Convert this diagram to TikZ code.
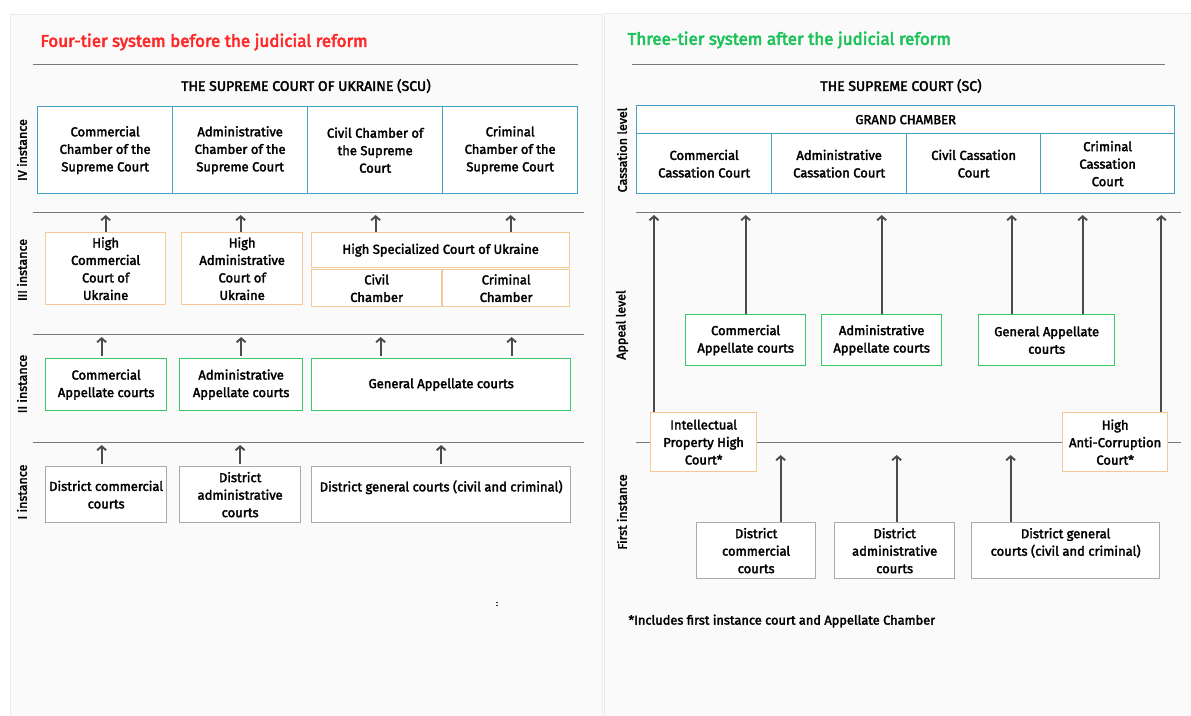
\documentclass[tikz,border=0pt]{standalone}
\usepackage{fontspec}
\setmainfont{Fira Sans}[RawFeature={embolden=2.4}]
\newfontfamily\titlefont{Fira Sans}[RawFeature={embolden=3.2}]
\usetikzlibrary{arrows.meta,calc}
\definecolor{titlered}{RGB}{255,40,40}
\definecolor{titlegreen}{RGB}{30,194,90}
\definecolor{tealc}{RGB}{70,160,195}
\definecolor{orangec}{RGB}{245,200,150}
\definecolor{greenc}{RGB}{55,200,105}
\definecolor{grayc}{RGB}{170,170,170}
\definecolor{linec}{RGB}{120,120,120}
\definecolor{arrowc}{RGB}{75,75,75}
\definecolor{panelfill}{RGB}{250,250,250}
\definecolor{paneldraw}{RGB}{234,234,234}
\newcommand\bx{\fontsize{13}{17.5}\selectfont}
\newcommand\sidefont{\fontsize{12.5}{14}\selectfont}
\begin{document}
\begin{tikzpicture}[x=1pt,y=-1pt,
  panel/.style={fill=panelfill,draw=paneldraw,line width=1pt},
  hl/.style={draw=linec,line width=0.9pt},
  bbox/.style={draw,line width=1.3pt,fill=white,align=center,inner sep=1pt,font=\bx,anchor=north west},
  tbox/.style={bbox,draw=tealc},
  obox/.style={bbox,draw=orangec},
  gbox/.style={bbox,draw=greenc},
  dbox/.style={bbox,draw=grayc},
  arr/.style={draw=arrowc,line width=1.9pt,-{Straight Barb[length=4pt,width=9pt]}},
  side/.style={rotate=90,font=\sidefont},
  head/.style={font=\fontsize{14}{16}\selectfont},
  ttl/.style={anchor=west,font=\titlefont\fontsize{17}{20}\selectfont},
]
\useasboundingbox (0,0) rectangle (1191,715);
\fill[white] (0,0) rectangle (1191,715);
\draw[panel] (10,14) rectangle (602,730);
\draw[panel] (604,13) rectangle (1200,730);

% ================= LEFT PANEL =================
\node[ttl,text=titlered] (t1) at (37,42) {Four-tier system before the judicial reform};
\draw[hl] (33,64) -- (578,64);
\node[head] (scu) at (306,86) {THE SUPREME COURT OF UKRAINE (SCU)};

\node[tbox,minimum width=135,minimum height=87] (s1) at (37,106) {Commercial\\Chamber of the\\Supreme Court};
\node[tbox,minimum width=135,minimum height=87] (s2) at (172,106) {Administrative\\Chamber of the\\Supreme Court};
\node[tbox,minimum width=135,minimum height=87] (s3) at (307,106) {Civil Chamber of\\the Supreme\\Court};
\node[tbox,minimum width=135,minimum height=87] (s4) at (442,106) {Criminal\\Chamber of the\\Supreme Court};

\draw[hl] (33,212) -- (584,212);
\draw[hl] (33,334) -- (584,334);
\draw[hl] (33,442) -- (584,442);
\coordinate (l4) at (0,215);
\coordinate (l3) at (0,337);
\coordinate (l2) at (0,445);

\node[obox,minimum width=120,minimum height=72] (h1) at (45,232) {High\\Commercial\\Court of\\Ukraine};
\node[obox,minimum width=121,minimum height=72] (h2) at (181,232) {High\\Administrative\\Court of\\Ukraine};
\node[obox,minimum width=258,minimum height=35] (hsc) at (311,232) {High Specialized Court of Ukraine};
\node[obox,minimum width=130,minimum height=37] (civ) at (311,269) {Civil\\Chamber};
\node[obox,minimum width=127,minimum height=37] (crim) at (442,269) {Criminal\\Chamber};

\node[gbox,minimum width=121,minimum height=52] (a1) at (45,358) {Commercial\\Appellate courts};
\node[gbox,minimum width=123,minimum height=52] (a2) at (179,358) {Administrative\\Appellate courts};
\node[gbox,minimum width=259,minimum height=52] (a3) at (311,358) {General Appellate courts};

\node[dbox,minimum width=121,minimum height=56] (d1) at (45,466) {District commercial\\courts};
\node[dbox,minimum width=121,minimum height=56] (d2) at (179,466) {District\\administrative\\courts};
\node[dbox,minimum width=259,minimum height=56] (d3) at (311,466) {District general courts (civil and criminal)\\\mbox{}};

\draw[arr] (h1.north) -- (h1.north |- l4);
\draw[arr] ([xshift=-1.5pt]h2.north) -- ([xshift=-1.5pt]h2.north |- l4);
\draw[arr] ([xshift=-1pt]hsc.north -| civ.north) -- ([xshift=-1pt]civ.north |- l4);
\draw[arr] ([xshift=4.5pt]hsc.north -| crim.north) -- ([xshift=4.5pt]crim.north |- l4);

\draw[arr,shorten <=2pt] ([xshift=-4.5pt]a1.north) -- ([xshift=-4.5pt]a1.north |- l3);
\draw[arr,shorten <=2pt] (a2.north) -- (a2.north |- l3);
\draw[arr,shorten <=2pt] ([xshift=4pt]a3.north -| civ.north) -- ([xshift=4pt]civ.north |- l3);
\draw[arr,shorten <=2pt] ([xshift=5.5pt]a3.north -| crim.north) -- ([xshift=5.5pt]crim.north |- l3);

\draw[arr,shorten <=2pt] ([xshift=-4.5pt]d1.north) -- ([xshift=-4.5pt]d1.north |- l2);
\draw[arr,shorten <=2pt] (d2.north) -- (d2.north |- l2);
\draw[arr,shorten <=2pt] (d3.north) -- (d3.north |- l2);

\node[side] (lab4) at (22,150) {IV instance};
\node[side] (lab3) at (22,270) {III instance};
\node[side] (lab2) at (22,384) {II instance};
\node[side] (lab1) at (22,492) {I instance};

\node[font=\fontsize{8}{8}\selectfont] (colon) at (497,604) {:};

% ================= RIGHT PANEL =================
\node[ttl,text=titlegreen] (t2) at (624,40) {Three-tier system after the judicial reform};
\draw[hl] (632,64) -- (1165,64);
\node[head] (sc) at (901,86) {THE SUPREME COURT (SC)};

\node[tbox,minimum width=538,minimum height=28] (gc) at (636,105) {GRAND CHAMBER};
\node[tbox,minimum width=135,minimum height=60] (c1) at (636,133) {Commercial\\Cassation Court};
\node[tbox,minimum width=135,minimum height=60] (c2) at (771,133) {Administrative\\Cassation Court};
\node[tbox,minimum width=134,minimum height=60] (c3) at (906,133) {Civil Cassation\\Court};
\node[tbox,minimum width=134,minimum height=60] (c4) at (1040,133) {Criminal\\Cassation\\Court};

\draw[hl] (636,212) -- (1181,212);
\draw[hl] (636,442) -- (1181,442);
\coordinate (rtop) at (0,215);
\coordinate (rmid) at (0,455);

\node[gbox,minimum width=120,minimum height=51] (r1) at (685,314) {Commercial\\Appellate courts};
\node[gbox,minimum width=120,minimum height=51] (r2) at (821,314) {Administrative\\Appellate courts};
\node[gbox,minimum width=136,minimum height=51] (r3) at (978,314) {General Appellate\\courts};

\node[obox,minimum width=106,minimum height=59] (ip) at (650,412) {Intellectual\\Property High\\Court*};
\node[obox,minimum width=105,minimum height=59] (hacc) at (1062,412) {High\\Anti-Corruption\\Court*};

\node[dbox,minimum width=119,minimum height=56] (rd1) at (696,522) {District\\commercial\\courts};
\node[dbox,minimum width=120,minimum height=56] (rd2) at (834,522) {District\\administrative\\courts};
\node[dbox,minimum width=188,minimum height=56] (rd3) at (971,522) {District general\\courts (civil and criminal)\\\mbox{}};

\draw[arr] ([xshift=4pt]ip.north west) -- ([xshift=4pt]ip.north west |- rtop);
\draw[arr] ([xshift=-7pt]hacc.north east) -- ([xshift=-7pt]hacc.north east |- rtop);
\draw[arr] (r1.north) -- (r1.north |- rtop);
\draw[arr] (r2.north) -- (r2.north |- rtop);
\draw[arr] ([xshift=-35pt]r3.north) -- ([xshift=-35pt]r3.north |- rtop);
\draw[arr] ([xshift=36pt]r3.north) -- ([xshift=36pt]r3.north |- rtop);

\draw[arr] ([xshift=24.5pt]rd1.north) -- ([xshift=24.5pt]rd1.north |- rmid);
\draw[arr] ([xshift=2pt]rd2.north) -- ([xshift=2pt]rd2.north |- rmid);
\draw[arr] ([xshift=-55pt]rd3.north) -- ([xshift=-55pt]rd3.north |- rmid);

\node[side] (rlab3) at (622,150) {Cassation level};
\node[side] (rlab2) at (622,325) {Appeal level};
\node[side] (rlab1) at (622,512) {First instance};

\node[anchor=west,font=\fontsize{12.8}{14}\selectfont] (note) at (625,621) {*Includes first instance court and Appellate Chamber};
\end{tikzpicture}
\end{document}
